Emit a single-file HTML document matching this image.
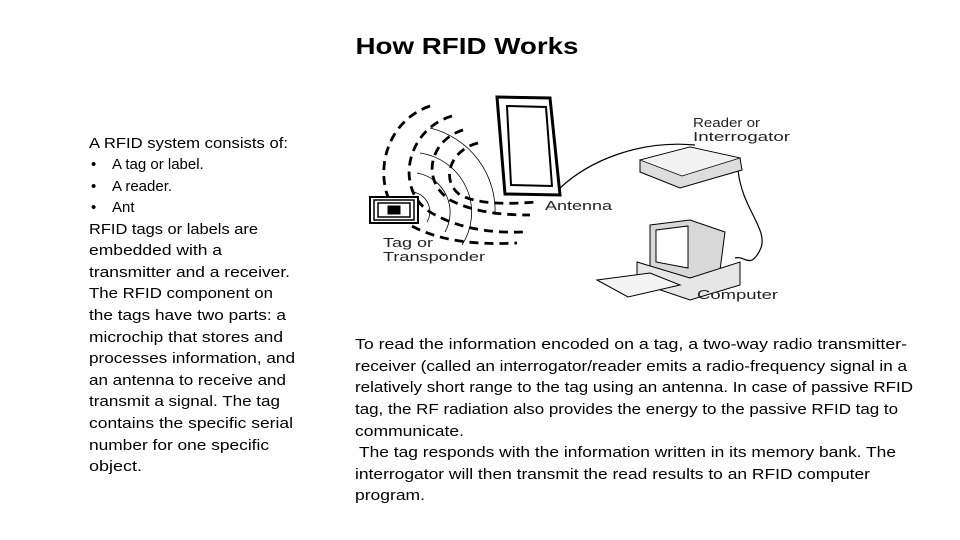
<!DOCTYPE html>
<html><head><meta charset="utf-8"><style>
html,body{margin:0;padding:0;background:#fff;width:960px;height:540px;overflow:hidden}
svg{display:block}
.t{font-family:"Liberation Sans",sans-serif;font-size:15px;fill:#000}
.l{font-family:"Liberation Sans",sans-serif;font-size:13px;fill:#222}
</style></head><body>
<svg width="960" height="540" viewBox="0 0 960 540">
<text x="467" y="54" text-anchor="middle" font-family="Liberation Sans, sans-serif" font-size="23" font-weight="bold" fill="#000" textLength="223" lengthAdjust="spacingAndGlyphs">How RFID Works</text>
<g class="t">
<text x="89" y="148" textLength="199" lengthAdjust="spacingAndGlyphs">A RFID system consists of:</text>
<text x="91" y="169">•</text><text x="112" y="169">A tag or label.</text>
<text x="91" y="191">•</text><text x="112" y="191">A reader.</text>
<text x="91" y="212">•</text><text x="112" y="212">Ant</text>
<text x="89" y="234" textLength="169" lengthAdjust="spacingAndGlyphs">RFID tags or labels are</text>
<text x="89" y="255" textLength="133" lengthAdjust="spacingAndGlyphs">embedded with a</text>
<text x="89" y="277" textLength="201" lengthAdjust="spacingAndGlyphs">transmitter and a receiver.</text>
<text x="89" y="298" textLength="184" lengthAdjust="spacingAndGlyphs">The RFID component on</text>
<text x="89" y="320" textLength="197" lengthAdjust="spacingAndGlyphs">the tags have two parts: a</text>
<text x="89" y="342" textLength="194" lengthAdjust="spacingAndGlyphs">microchip that stores and</text>
<text x="89" y="363" textLength="206" lengthAdjust="spacingAndGlyphs">processes information, and</text>
<text x="89" y="385" textLength="197" lengthAdjust="spacingAndGlyphs">an antenna to receive and</text>
<text x="89" y="406" textLength="191" lengthAdjust="spacingAndGlyphs">transmit a signal. The tag</text>
<text x="89" y="428" textLength="204" lengthAdjust="spacingAndGlyphs">contains the specific serial</text>
<text x="89" y="450" textLength="180" lengthAdjust="spacingAndGlyphs">number for one specific</text>
<text x="89" y="471" textLength="53" lengthAdjust="spacingAndGlyphs">object.</text>

<text x="355" y="349" textLength="552" lengthAdjust="spacingAndGlyphs">To read the information encoded on a tag, a two-way radio transmitter-</text>
<text x="355" y="371" textLength="552" lengthAdjust="spacingAndGlyphs">receiver (called an interrogator/reader emits a radio-frequency signal in a</text>
<text x="355" y="392" textLength="558" lengthAdjust="spacingAndGlyphs">relatively short range to the tag using an antenna.  In case of passive RFID</text>
<text x="355" y="414" textLength="543" lengthAdjust="spacingAndGlyphs">tag, the RF radiation also provides the energy to the passive RFID tag to</text>
<text x="355" y="436" textLength="109" lengthAdjust="spacingAndGlyphs">communicate.</text>
<text x="359" y="457" textLength="537" lengthAdjust="spacingAndGlyphs">The tag responds with the information written in its memory bank. The</text>
<text x="355" y="479" textLength="515" lengthAdjust="spacingAndGlyphs">interrogator will then transmit the read results to an RFID computer</text>
<text x="355" y="500" textLength="70" lengthAdjust="spacingAndGlyphs">program.</text>
</g>

<g fill="none" stroke="#000">
 <g stroke-width="2.8" stroke-dasharray="9,6">
  <path d="M430,106 C375,125 370,200 410,225 C440,242 480,245 517,243"/>
  <path d="M452,116 C405,130 395,190 430,212 C460,230 495,233 523,232"/>
  <path d="M463,130 C430,140 420,180 450,200 C475,213 505,215 530,215"/>
  <path d="M478,143 C450,150 440,180 460,195 C480,205 510,204 537,202"/>
 </g>
 <g stroke-width="0.8">
  <path d="M413,192 A20,20 0 0 1 427,222"/>
  <path d="M417,173 A40,40 0 0 1 445,232"/>
  <path d="M420,153 A60,60 0 0 1 462,245"/>
  <path d="M430,128 A85,85 0 0 1 495,215"/>
 </g>
 <rect x="370" y="197" width="48" height="26" fill="#fff" stroke-width="2"/>
 <rect x="374" y="200" width="40" height="20" stroke-width="1.5"/>
 <rect x="378" y="203" width="32" height="14" stroke-width="1.5"/>
 <rect x="388" y="206" width="12" height="8" fill="#000"/>
 <path d="M497,97 L550,98 L560,195 L505,194 Z" fill="#fff" stroke-width="3"/>
 <path d="M507,106 L546,107 L552,186 L511,185 Z" stroke-width="2"/>
 <path d="M560,188 C590,160 640,140 695,145" stroke-width="1.2"/>
 <path d="M738,170 C742,210 770,230 760,250 C750,270 745,255 735,258" stroke-width="1.2"/>
 <path d="M640,160 L690,147 L740,158 L742,170 L680,188 L640,172 Z" fill="#ddd" stroke-width="1"/>
 <path d="M640,160 L690,147 L740,158 L682,176 Z" fill="#f2f2f2" stroke-width="0.8"/>
 <path d="M650,225 L690,220 L725,232 L720,270 L690,278 L650,268 Z" fill="#d8d8d8" stroke-width="1"/>
 <path d="M656,230 L688,226 L688,268 L656,262 Z" fill="#fff" stroke-width="1"/>
 <path d="M637,262 L690,278 L740,262 L740,285 L690,300 L637,282 Z" fill="#e6e6e6" stroke-width="1"/>
 <path d="M597,280 L650,273 L680,285 L628,297 Z" fill="#f4f4f4" stroke-width="1"/>
</g>
<g class="l">
<text x="693" y="127" textLength="67" lengthAdjust="spacingAndGlyphs">Reader or</text>
<text x="693" y="141" textLength="97" lengthAdjust="spacingAndGlyphs">Interrogator</text>
<text x="545" y="210" textLength="67" lengthAdjust="spacingAndGlyphs">Antenna</text>
<text x="383" y="247" textLength="50" lengthAdjust="spacingAndGlyphs">Tag or</text>
<text x="383" y="261" textLength="102" lengthAdjust="spacingAndGlyphs">Transponder</text>
<text x="697" y="299" textLength="81" lengthAdjust="spacingAndGlyphs">Computer</text>
</g>
</svg>
</body></html>
